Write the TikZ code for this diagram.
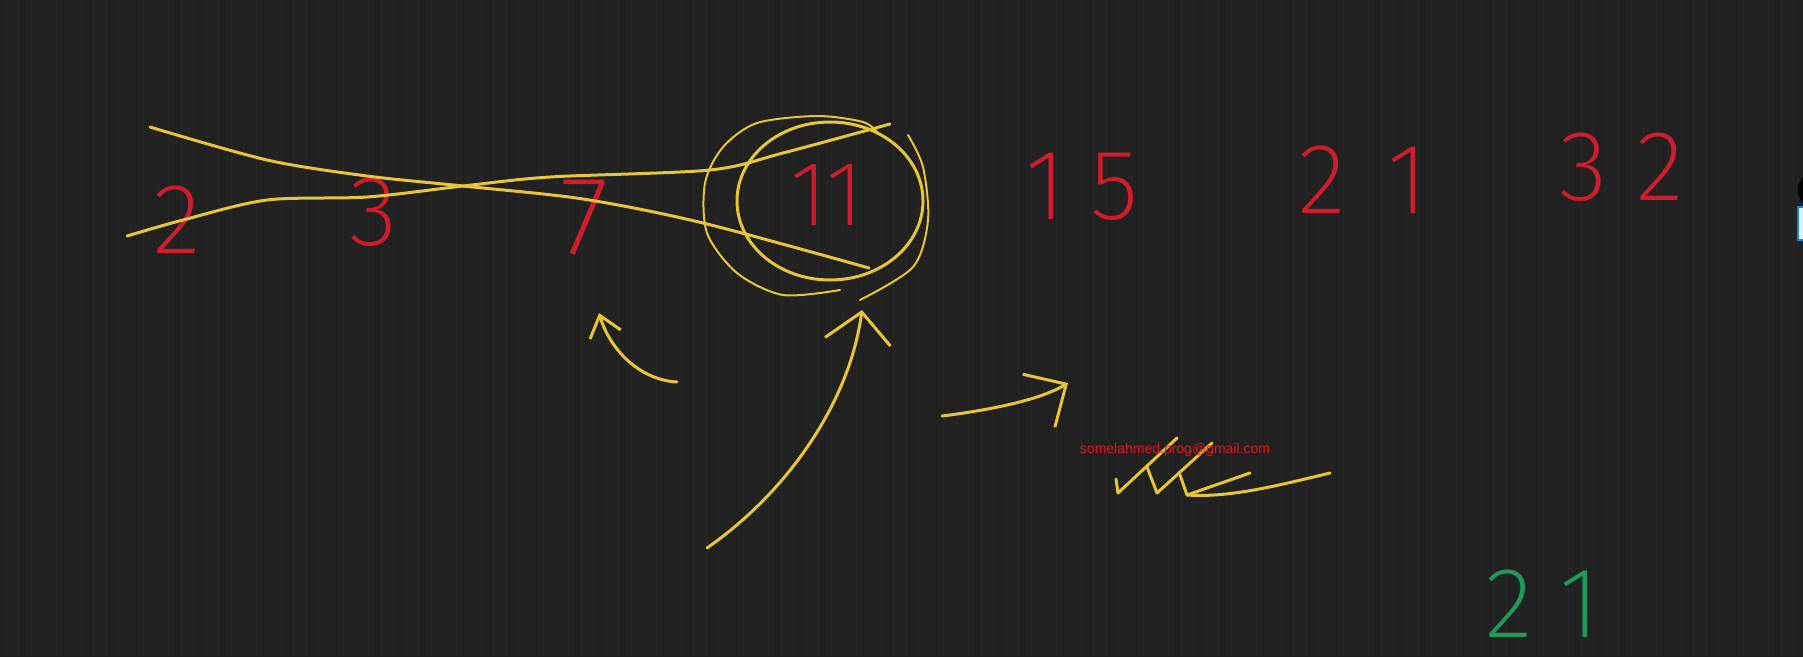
\documentclass[tikz,border=0pt]{standalone}
\usepackage{fontspec}
\usepackage{tikz}
\usetikzlibrary{arrows.meta,calc,positioning}
\newfontfamily\handfont{Fira Sans ExtraLight}[Numbers=Proportional]
\newfontfamily\mailfont{Liberation Sans}
\definecolor{board}{HTML}{212121}
\definecolor{boardline}{HTML}{262626}
\definecolor{inkred}{HTML}{D01C2C}
\definecolor{inkyellow}{HTML}{E6C43C}
\definecolor{inkgreen}{HTML}{1F9A5B}
\definecolor{mailred}{HTML}{E8141E}

\begin{document}
\begin{tikzpicture}[x=1pt,y=-1pt,
	num/.style={text=inkred,font=\handfont\fontsize{100}{100}\selectfont,inner sep=0pt},
	wide/.style={font=\handfont\fontsize{100}{100}\selectfont\addfontfeature{LetterSpace=#1}},
	pen/.style={draw=inkyellow,line width=3pt,line cap=round,line join=round},
	arr/.style={pen,-{Straight Barb[length=24pt,width=40pt]}}]
\fill[board] (0,0) rectangle (1803,657);
\useasboundingbox (0,0) rectangle (1803,657);
\foreach \x in {6,18.5,...,1800} \draw[boardline,line width=1pt] (\x,0) -- (\x,657);
% the row of numbers
\node[num] (n2) at (177,220) {2};
\node[num] (n3) at (374,212) {3};
\node[num,font=\handfont\fontsize{112}{112}\selectfont] (n7) at (585,218) {7};
\node[num,font=\handfont\fontsize{92}{92}\selectfont] (n11) at (827,195) {11};
\node[num,wide=24] (n15) at (1082,187) {15};
\node[num,wide=45] (n21) at (1363,180) {21};
\node[num,wide=30] (n32) at (1622,167) {32};
\node[num,text=inkgreen,wide=30] (g21) at (1543,604) {21};
% crossing strokes
\draw[pen] plot[smooth] coordinates {(150,127) (267,160) (367,176) (463,186) (583,199) (703,223) (869,268)};
\draw[pen] plot[smooth] coordinates {(127,236) (183,220) (267,200) (367,197) (463,186) (550,177) (710,170) (783,153) (890,124)};
% loops round 11
\draw[pen] (830,201) ellipse [x radius=93, y radius=79];
\draw[pen,line width=2pt] plot[smooth] coordinates {(840,290) (783,295) (737,273) (707,233) (705,183) (723,147) (757,123) (817,116) (863,122) (878,133)};
\draw[pen,line width=2pt] plot[smooth] coordinates {(908,135) (923,167) (928,220) (913,267) (860,300)};
% arrows
\coordinate (t7) at (677,382);
\coordinate (p7) at (599,313);
\coordinate (t11) at (707,548);
\coordinate (p11) at (862,310);
\coordinate (t3) at (942,416);
\coordinate (p3) at (1068,383);
\draw[arr,-{Straight Barb[length=20pt,width=32pt]}] (t7) .. controls (640,380) and (610,350) .. (p7);
\draw[arr,-{Straight Barb[length=30pt,width=66pt]}] (t11) .. controls (790,490) and (850,400) .. (p11);
\draw[arr,-{Straight Barb[length=32pt,width=62pt]}] (t3) .. controls (990,410) and (1040,400) .. (p3);
% scribble
\draw[pen] (1116,479) -- (1118,493) -- (1177,438);
\draw[pen] (1147,467) -- (1157,493) -- (1212,443);
\draw[pen] (1180,475) -- (1187,495) -- (1250,473);
\draw[pen] (1187,495) .. controls (1230,498) and (1280,485) .. (1330,473);
\node[text=mailred,font=\mailfont\fontsize{14}{14}\selectfont,inner sep=0pt] (mail) at (1175,450) {somelahmed.prog@gmail.com};
% right edge
\begin{scope}
\clip (0,0) rectangle (1803,657);
\fill[black] (1818,190) circle (20);
\filldraw[fill=white!85!cyan,draw=cyan!70!blue,line width=1.5pt] (1798,207) rectangle (1808,240);
\end{scope}
\end{tikzpicture}
\end{document}
